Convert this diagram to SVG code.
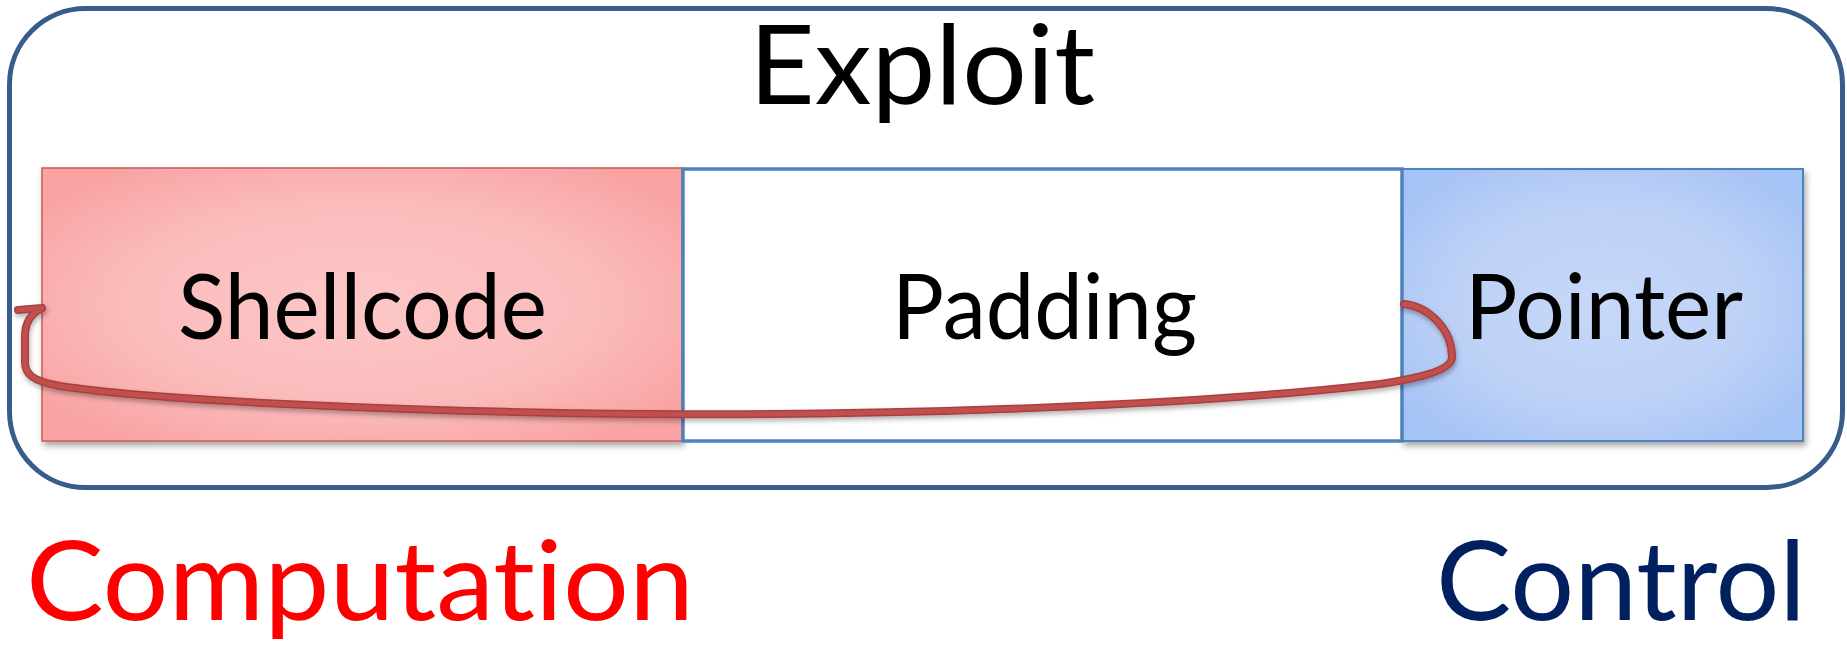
<svg xmlns="http://www.w3.org/2000/svg" width="1847" height="645" viewBox="0 0 1847 645">
<style>
.t{font-family:Lato,"Open Sans","Liberation Sans",sans-serif;font-variant-ligatures:none;font-feature-settings:"liga" 0,"dlig" 0;}
.lbl{font-size:92px;fill:#000;}
.big{font-size:111px;}
.conn{fill:none;stroke-linecap:round;stroke-linejoin:round;}
</style>
<defs>
<radialGradient id="gRed" cx="0.5" cy="0.5" r="0.62">
<stop offset="0" stop-color="#FCC7C7"/>
<stop offset="0.6" stop-color="#FBBBBB"/>
<stop offset="1" stop-color="#F9A3A3"/>
</radialGradient>
<radialGradient id="gBlue" cx="0.5" cy="0.5" r="0.62">
<stop offset="0" stop-color="#C7D8F8"/>
<stop offset="0.6" stop-color="#BDD1F7"/>
<stop offset="1" stop-color="#A6C3F5"/>
</radialGradient>
<filter id="sh" x="-5%" y="-5%" width="112%" height="120%">
<feDropShadow dx="2" dy="4" stdDeviation="3" flood-color="#000" flood-opacity="0.35"/>
</filter>
<filter id="shl" x="-5%" y="-20%" width="110%" height="150%">
<feDropShadow dx="1" dy="3" stdDeviation="2.5" flood-color="#000" flood-opacity="0.3"/>
</filter>
</defs>
<g id="exploit">
<rect x="9.5" y="8.5" width="1833" height="479" rx="76" ry="76" fill="#fff" stroke="#385D8A" stroke-width="5"/>
<text class="t big" x="749" y="104" textLength="346" lengthAdjust="spacingAndGlyphs">Exploit</text>
</g>
<g id="shellcode">
<rect x="42" y="168" width="640" height="273" fill="url(#gRed)" stroke="#CD5A58" stroke-width="1.5" filter="url(#sh)"/>
<text class="t lbl" x="178" y="339" textLength="369" lengthAdjust="spacingAndGlyphs">Shellcode</text>
</g>
<g id="pointer">
<rect x="1402" y="169" width="401" height="272" fill="url(#gBlue)" stroke="#4F81BD" stroke-width="2" filter="url(#sh)"/>
<text class="t lbl" x="1465" y="339" textLength="278" lengthAdjust="spacingAndGlyphs">Pointer</text>
</g>
<g id="padding">
<rect x="683" y="169" width="719" height="272" fill="#fff" stroke="#4F81BD" stroke-width="3.5"/>
<text class="t lbl" x="892" y="339" textLength="305" lengthAdjust="spacingAndGlyphs">Padding</text>
</g>
<g id="connectors" filter="url(#shl)">
<path class="conn" d="M1404,304 C1430,307 1452,330 1452,357 C1452,370 1420,378 1380,384 C1200,405 900,416 650,414 C400,412 150,400 60,386 C32,381 25,374 25,362 L25,336 C25,322 32,313 42,308 M18,310 L42,308" stroke="#A8403E" stroke-width="8"/>
<path class="conn" d="M1404,304 C1430,307 1452,330 1452,357 C1452,370 1420,378 1380,384 C1200,405 900,416 650,414 C400,412 150,400 60,386 C32,381 25,374 25,362 L25,336 C25,322 32,313 42,308 M18,310 L42,308" stroke="#C0504D" stroke-width="5"/>
</g>
<g id="computation">
<text class="t big" x="26" y="620" fill="#FF0000" textLength="668" lengthAdjust="spacingAndGlyphs">Computation</text>
</g>
<g id="control">
<text class="t big" x="1436" y="620" fill="#002060" textLength="370" lengthAdjust="spacingAndGlyphs">Control</text>
</g>
</svg>
